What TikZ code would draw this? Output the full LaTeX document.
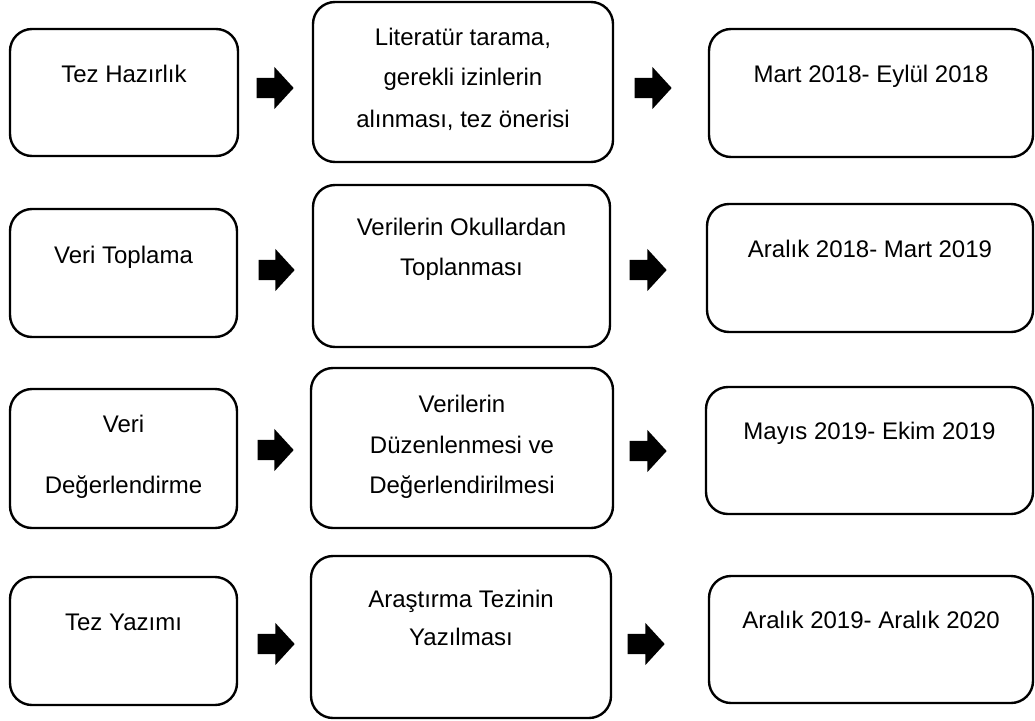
\documentclass[tikz,border=0pt]{standalone}
\usepackage{fontspec}
\setmainfont{Liberation Sans}
\usetikzlibrary{shapes.arrows}
\newcommand\rbox[5]{\node[box, minimum width={(#4-#2)*1pt}, minimum height={(#5-#3)*1pt}] (#1) at ({(#2+#4)/2},{(#3+#5)/2}) {};}
\newcommand\barrow[4]{\node[blockarrow, minimum height={(#3-#2)*1pt}] (#1) at ({(#2+#3)/2},#4) {};}
\begin{document}
\begin{tikzpicture}[x=1pt,y=-1pt,
  box/.style={draw=black, line width=2.4pt, rounded corners=22pt, inner sep=0pt},
  lbl/.style={anchor=base, inner sep=0pt, font=\fontsize{24}{28}\selectfont},
  blockarrow/.style={single arrow, fill=black, draw=none, inner xsep=0pt, inner ysep=10pt,
     single arrow head extend=11pt, single arrow head indent=0pt,
     single arrow tip angle=95, shape border rotate=0}]
\useasboundingbox (0,0) rectangle (1035,720);
% boxes
\rbox{A1}{10}{29}{238}{156}
\rbox{B1}{313}{2}{613}{162}
\rbox{C1}{709}{29}{1033}{157}
\rbox{A2}{10}{209}{237}{337}
\rbox{B2}{313}{185}{610}{347}
\rbox{C2}{707}{204}{1033}{332}
\rbox{A3}{10}{389}{237}{528}
\rbox{B3}{311}{368}{613}{528}
\rbox{C3}{706}{387}{1033}{514}
\rbox{A4}{10}{577}{237}{705}
\rbox{B4}{311}{556}{611}{718}
\rbox{C4}{709}{576}{1033}{703}
% block arrows
\barrow{r1a}{252}{289}{88}
\barrow{r1b}{630}{667}{88}
\barrow{r2a}{254}{290}{270}
\barrow{r2b}{625}{662}{270}
\barrow{r3a}{253}{289}{450}
\barrow{r3b}{625}{662}{451}
\barrow{r4a}{253}{290}{644}
\barrow{r4b}{623}{660}{644}
% texts
\node[lbl] (tA1) at (A1.center |- 0,82) {Tez Hazırlık};
\node[lbl] (tB1a) at (B1.center |- 0,45) {Literatür tarama,};
\node[lbl] (tB1b) at (B1.center |- 0,85) {gerekli izinlerin};
\node[lbl] (tB1c) at (B1.center |- 0,127) {alınması, tez önerisi};
\node[lbl] (tC1) at (C1.center |- 0,82) {Mart 2018- Eylül 2018};
\node[lbl] (tA2) at (A2.center |- 0,263) {Veri Toplama};
\node[lbl] (tB2a) at (B2.center |- 0,235) {Verilerin Okullardan};
\node[lbl] (tB2b) at (B2.center |- 0,275) {Toplanması};
\node[lbl] (tC2) at (C2.center |- 0,257) {Aralık 2018- Mart 2019};
\node[lbl] (tA3a) at (A3.center |- 0,432) {Veri};
\node[lbl] (tA3b) at (A3.center |- 0,493) {Değerlendirme};
\node[lbl] (tB3a) at (B3.center |- 0,412) {Verilerin};
\node[lbl] (tB3b) at (B3.center |- 0,453) {Düzenlenmesi ve};
\node[lbl] (tB3c) at (B3.center |- 0,493) {Değerlendirilmesi};
\node[lbl] (tC3) at (C3.center |- 0,439) {Mayıs 2019- Ekim 2019};
\node[lbl] (tA4) at (A4.center |- 0,630) {Tez Yazımı};
\node[lbl] (tB4a) at (B4.center |- 0,607) {Araştırma Tezinin};
\node[lbl] (tB4b) at (B4.center |- 0,645) {Yazılması};
\node[lbl] (tC4) at (C4.center |- 0,628) {Aralık 2019- Aralık 2020};
\end{tikzpicture}
\end{document}
